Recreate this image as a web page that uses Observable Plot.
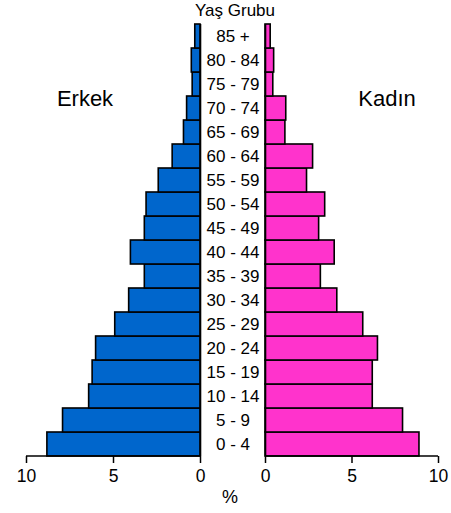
<!DOCTYPE html>
<html>
<head>
<meta charset="utf-8">
<script src="https://cdn.jsdelivr.net/npm/d3@7"></script>
<script src="https://cdn.jsdelivr.net/npm/@observablehq/plot@0.6"></script>
<style>
  html, body { margin: 0; padding: 0; background: white; }
  #wrap { position: relative; width: 451px; height: 513px; font-family: "Liberation Sans", Arial, sans-serif; color: black; }
  #wrap svg { position: absolute; left: 0; top: 0; background: transparent; overflow: visible; }
  .lbl { position: absolute; white-space: nowrap; transform: translateX(-50%); line-height: 1.15; }
</style>
</head>
<body>
<div id="wrap"></div>
<script>
const ages = ["0 - 4", "5 - 9", "10 - 14", "15 - 19", "20 - 24", "25 - 29", "30 - 34", "35 - 39", "40 - 44",
              "45 - 49", "50 - 54", "55 - 59", "60 - 64", "65 - 69", "70 - 74", "75 - 79", "80 - 84", "85 +"];
const male   = [8.8, 7.9, 6.4, 6.2, 6.0, 4.9, 4.1, 3.2, 4.0, 3.2, 3.1, 2.4, 1.6, 0.95, 0.77, 0.45, 0.5, 0.3];
const female = [8.9, 7.95, 6.2, 6.2, 6.5, 5.65, 4.15, 3.2, 4.0, 3.1, 3.45, 2.4, 2.75, 1.15, 1.2, 0.45, 0.5, 0.3];
const xTicks = [0, 5, 10];
const titleText = "Yaş Grubu";
const maleLabel = "Erkek";
const femaleLabel = "Kadın";
const unitLabel = "%";

const font = '"Liberation Sans", Arial, sans-serif';
const rowsM = ages.map((a, i) => ({age: a, v: male[i]}));
const rowsF = ages.map((a, i) => ({age: a, v: female[i]}));
const yDomain = ages.slice().reverse();

const W = 451, H = 513;
const common = {
  width: W, height: H, marginTop: 24, marginBottom: 57,
  style: {fontFamily: font, fontSize: "17px", color: "black", background: "transparent", overflow: "visible"},
};

const left = Plot.plot({
  ...common,
  marginLeft: 26, marginRight: 251,
  x: {domain: [0, 10], reverse: true, axis: null},
  y: {domain: yDomain, padding: 0, axis: null},
  marks: [
    Plot.barX(rowsM, {x: "v", y: "age", fill: "#0066CC", stroke: "black", strokeWidth: 1.6}),
    Plot.ruleX([0], {stroke: "black", strokeWidth: 1.6}),
    Plot.axisX({ticks: xTicks, tickSize: 7, tickPadding: 6, strokeWidth: 1.5, fontSize: 17.5, label: null})
  ]
});

const right = Plot.plot({
  ...common,
  marginLeft: 265, marginRight: 13,
  x: {domain: [0, 10], axis: null},
  y: {domain: yDomain, padding: 0, axis: null},
  marks: [
    Plot.barX(rowsF, {x: "v", y: "age", fill: "#FF33CC", stroke: "black", strokeWidth: 1.6}),
    Plot.ruleX([0], {stroke: "black", strokeWidth: 1.6}),
    Plot.axisX({ticks: xTicks, tickSize: 7, tickPadding: 6, strokeWidth: 1.5, fontSize: 17.5, label: null}),
    Plot.text(rowsF, {x: () => 0, y: "age", text: "age", dx: -32.5, fontSize: 17, textAnchor: "middle"})
  ]
});

function addAxisLine(plot) {
  const sx = plot.scale("x"), sy = plot.scale("y");
  const yb = sy.range[1];
  d3.select(plot).append("line")
    .attr("x1", sx.apply(0)).attr("x2", sx.apply(10))
    .attr("y1", yb).attr("y2", yb)
    .attr("stroke", "black").attr("stroke-width", 1.6);
}
addAxisLine(left);
addAxisLine(right);

const wrap = document.getElementById("wrap");
wrap.appendChild(left);
wrap.appendChild(right);

function addLabel(text, x, top, size) {
  const d = document.createElement("div");
  d.className = "lbl";
  d.textContent = text;
  d.style.left = x + "px";
  d.style.top = top + "px";
  d.style.fontSize = size + "px";
  wrap.appendChild(d);
}
addLabel(titleText, 235, 1, 17);
addLabel(unitLabel, 230, 487, 18);
addLabel(maleLabel, 85, 86, 22);
addLabel(femaleLabel, 387, 86, 22);
</script>
</body>
</html>
